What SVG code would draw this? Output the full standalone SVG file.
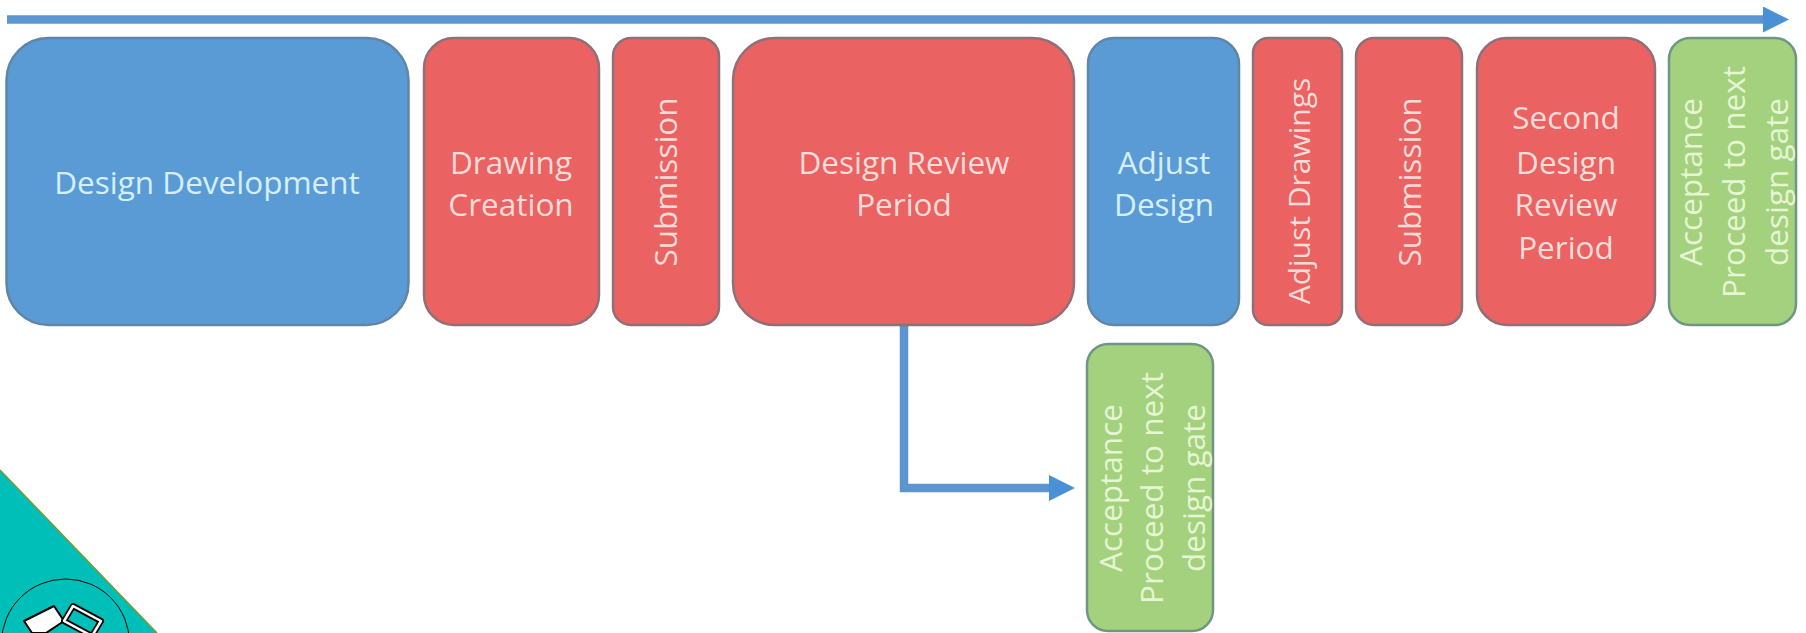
<svg xmlns="http://www.w3.org/2000/svg" width="1806" height="633" viewBox="0 0 1806 633">
<style>
.b{stroke-width:2.5}
.blue{fill:#5b9bd5;stroke:#5f86a8}
.red{fill:#ea6262;stroke:#8f7078}
.green{fill:#a3d17e;stroke:#6f9685}
text{font-family:"Open Sans","Liberation Sans",sans-serif;font-size:31.5px;text-anchor:middle}
.tb{fill:#d4effa}
.tr{fill:#fbdcd8}
.tg{fill:#e6f5d3}
.conn{fill:none;stroke:#5b96d0;stroke-width:8.5}
</style>
<defs>
<marker id="ah" markerUnits="userSpaceOnUse" markerWidth="26" markerHeight="26" refX="1" refY="13" orient="auto"><path d="M0 0L26 13L0 26Z" fill="#4a90d4"/></marker>
</defs>
<g id="connectors">
<path class="conn" d="M7 19.500H1764" marker-end="url(#ah)"/>
<path class="conn" d="M904 325V488H1050" marker-end="url(#ah)"/>
</g>
<g id="n1"><rect class="b blue" x="6.500" y="38" width="402" height="287" rx="42"/><text class="tb" x="207" y="194">Design Development</text></g>
<g id="n2"><rect class="b red" x="424" y="38" width="175" height="287" rx="30"/><text class="tr" x="511" y="174">Drawing</text><text class="tr" x="511" y="216">Creation</text></g>
<g id="n3"><rect class="b red" x="613" y="38" width="106" height="287" rx="18"/><text class="tr" transform="translate(677 182) rotate(-90)">Submission</text></g>
<g id="n4"><rect class="b red" x="733" y="38" width="341" height="287" rx="42"/><text class="tr" x="904" y="174">Design Review</text><text class="tr" x="904" y="216">Period</text></g>
<g id="n5"><rect class="b blue" x="1088" y="38" width="151" height="287" rx="26"/><text class="tb" x="1164" y="174">Adjust</text><text class="tb" x="1164" y="216">Design</text></g>
<g id="n6"><rect class="b red" x="1253" y="38" width="89" height="287" rx="15"/><text class="tr" style="font-size:30px" transform="translate(1310 191) rotate(-90)">Adjust Drawings</text></g>
<g id="n7"><rect class="b red" x="1356" y="38" width="106" height="287" rx="18"/><text class="tr" transform="translate(1421 182) rotate(-90)">Submission</text></g>
<g id="n8"><rect class="b red" x="1477" y="38" width="178" height="287" rx="30"/><text class="tr" x="1566" y="129">Second</text><text class="tr" x="1566" y="174">Design</text><text class="tr" x="1566" y="216">Review</text><text class="tr" x="1566" y="259">Period</text></g>
<g id="n9"><rect class="b green" x="1669" y="38" width="127" height="287" rx="21"/><text class="tg" transform="translate(1702 182) rotate(-90)">Acceptance</text><text class="tg" transform="translate(1745 182) rotate(-90)">Proceed to next</text><text class="tg" transform="translate(1788 182) rotate(-90)">design gate</text></g>
<g id="n10"><rect class="b green" x="1087" y="344" width="126" height="287" rx="21"/><text class="tg" transform="translate(1122 488) rotate(-90)">Acceptance</text><text class="tg" transform="translate(1163 488) rotate(-90)">Proceed to next</text><text class="tg" transform="translate(1205 488) rotate(-90)">design gate</text></g>
<g id="corner">
<path d="M0 470L157 633H0Z" fill="#00bfb8"/>
<path d="M0 470L157 633" fill="none" stroke="#7a9a2e" stroke-width="1.500"/>
<circle cx="65.500" cy="643" r="64" fill="none" stroke="#000" stroke-width="1"/>
<path d="M24 621L54 606L64 621L46 633H32Z" fill="#fff" stroke="#000" stroke-width="2" stroke-linejoin="round"/>
<path d="M64 621L73 606L101 621L92 636L64 621Z" fill="none" stroke="#000" stroke-width="6" stroke-linejoin="round"/>
<path d="M64 621L73 606L101 621L92 636L64 621Z" fill="none" stroke="#fff" stroke-width="2.500" stroke-linejoin="round"/>
</g>
</svg>
